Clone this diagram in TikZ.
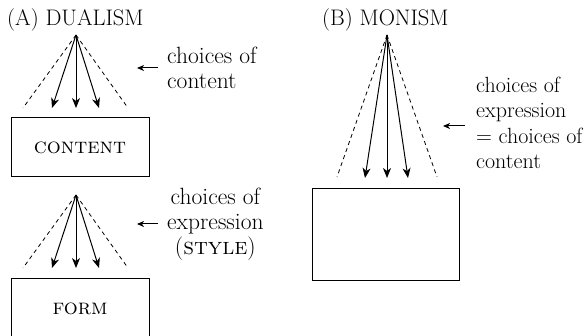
\documentclass[tikz,border=0pt]{standalone}
\usetikzlibrary{arrows.meta}
\begin{document}
\begin{tikzpicture}[x=1pt,y=-1pt,
  ttl/.style={inner sep=0pt,font=\fontsize{22.5}{25.3}\selectfont},
  lbl/.style={inner sep=0pt,font=\fontsize{23.5}{25.3}\selectfont},
  lblb/.style={inner sep=0pt,font=\fontsize{22}{25.3}\selectfont},
  boxlbl/.style={inner sep=0pt,font=\fontsize{22}{25}\selectfont\scshape},
  fanarrow/.style={line width=1pt,-{Stealth[length=10pt,width=8pt,inset=3pt]}},
  fandash/.style={line width=0.8pt,dash pattern=on 4pt off 3.5pt},
  ptr/.style={line width=1pt,-{Stealth[length=7pt,width=6pt,inset=2pt]}},
  frame/.style={line width=1pt}]
\useasboundingbox (0,0) rectangle (588,336);
% titles
\node[ttl,anchor=base west] (tA) at (7,26) {(A) DUALISM};
\node[ttl,anchor=base west] (tB) at (322,26) {(B) MONISM};
% fan A1
\coordinate (a1) at (76,35);
\coordinate (a1l) at (52,108); \coordinate (a1m) at (76,108); \coordinate (a1r) at (99,108);
\coordinate (a1dl) at (23,108); \coordinate (a1dr) at (128,108);
\draw[fanarrow] (a1) -- (a1l);
\draw[fanarrow] (a1) -- (a1m);
\draw[fanarrow] (a1) -- (a1r);
\draw[fandash] (a1) -- (a1dl);
\draw[fandash] (a1) -- (a1dr);
% box content
\node[frame,draw,minimum width=138pt,minimum height=59pt,inner sep=0pt] (content) at (80,147.5) {};
\node[boxlbl] (contentlbl) at (content.center) {content};
% label 1
\node[lbl,anchor=north west,align=left] (l1) at (167,46.5) {choices of\\content};
\coordinate (p1s) at (158,68); \coordinate (p1e) at (137,68);
\draw[ptr] (p1s) -- (p1e);
% fan A2
\coordinate (a2) at (76,195);
\coordinate (a2l) at (52,268); \coordinate (a2m) at (76,268); \coordinate (a2r) at (99,268);
\coordinate (a2dl) at (23,268); \coordinate (a2dr) at (128,268);
\draw[fanarrow] (a2) -- (a2l);
\draw[fanarrow] (a2) -- (a2m);
\draw[fanarrow] (a2) -- (a2r);
\draw[fandash] (a2) -- (a2dl);
\draw[fandash] (a2) -- (a2dr);
% form box (cut off at bottom)
\coordinate (f1) at (11,336); \coordinate (f2) at (11,278);
\coordinate (f3) at (149,278); \coordinate (f4) at (149,336);
\draw[frame] (f1) -- (f2) -- (f3) -- (f4);
\node[boxlbl] (formlbl) at (80,309) {form};
% label 2
\node[lbl,anchor=north west,align=center] (l2) at (167,187.5) {choices of\\expression\\(\textsc{style})};
\coordinate (p2s) at (158,224); \coordinate (p2e) at (137,224);
\draw[ptr] (p2s) -- (p2e);
% fan B
\coordinate (b) at (387,35);
\coordinate (bl) at (365,178); \coordinate (bm) at (387,178); \coordinate (br) at (408,178);
\coordinate (bdl) at (337,177); \coordinate (bdr) at (437,177);
\draw[fanarrow] (b) -- (bl);
\draw[fanarrow] (b) -- (bm);
\draw[fanarrow] (b) -- (br);
\draw[fandash] (b) -- (bdl);
\draw[fandash] (b) -- (bdr);
\node[frame,draw,minimum width=147pt,minimum height=91pt,inner sep=0pt] (mbox) at (385.5,234.5) {};
% label B
\node[lblb,anchor=north west,align=left] (l3) at (476,77) {choices of\\expression\\= choices of\\content};
\coordinate (p3s) at (465,126); \coordinate (p3e) at (443,126);
\draw[ptr] (p3s) -- (p3e);
\end{tikzpicture}
\end{document}
